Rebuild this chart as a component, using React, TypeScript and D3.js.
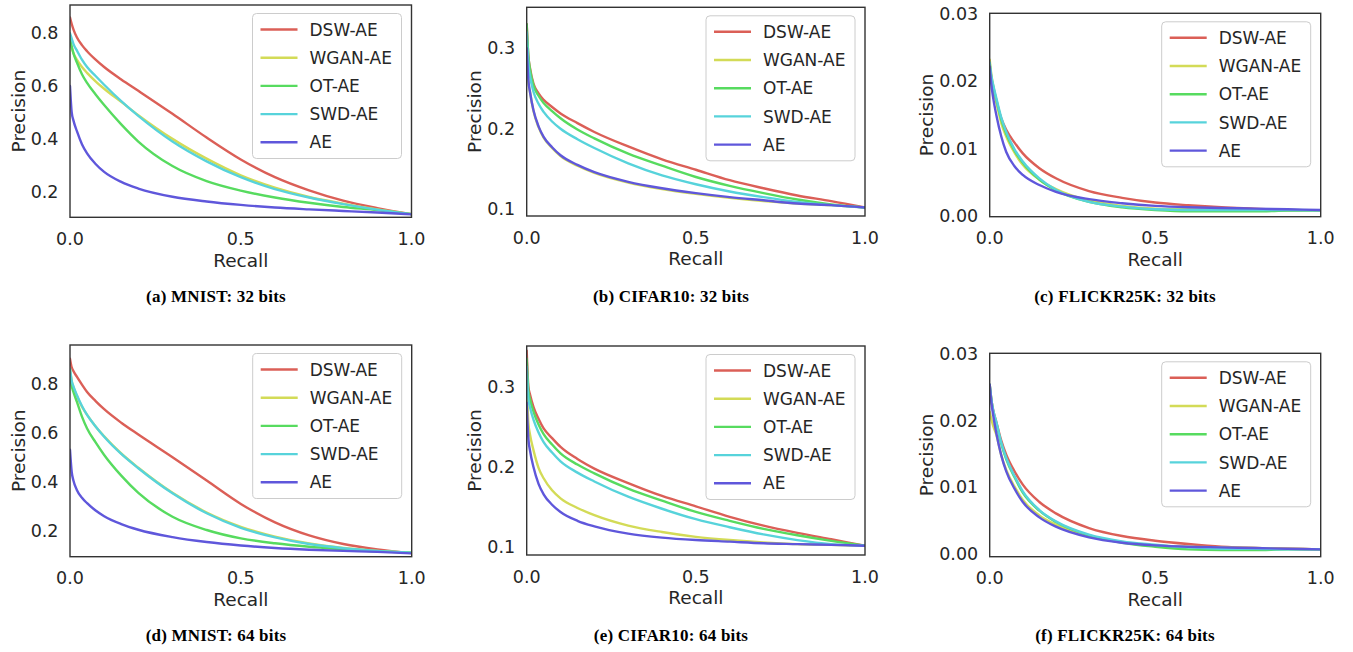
import React from "react";
import * as d3 from "d3";

// ---------- data ----------
const recall = [0, 0.005, 0.01, 0.02, 0.035, 0.05, 0.075, 0.1, 0.15, 0.2, 0.3, 0.4, 0.5, 0.6, 0.7, 0.8, 0.9, 1.0];
const methods = ["DSW-AE", "WGAN-AE", "OT-AE", "SWD-AE", "AE"];
const xTicks = [0, 0.5, 1.0];
const yTicksMnist = [0.2, 0.4, 0.6, 0.8];
const yTicksCifar = [0.1, 0.2, 0.3];
const yTicksFlickr = [0.0, 0.01, 0.02, 0.03];

// rows follow the order of `methods`
const mnist32 = [
  [0.86, 0.835, 0.815, 0.785, 0.755, 0.732, 0.70, 0.672, 0.625, 0.582, 0.495, 0.405, 0.322, 0.255, 0.205, 0.166, 0.138, 0.115],
  [0.77, 0.745, 0.725, 0.70, 0.672, 0.65, 0.618, 0.59, 0.54, 0.49, 0.40, 0.325, 0.262, 0.215, 0.18, 0.155, 0.133, 0.115],
  [0.78, 0.75, 0.725, 0.69, 0.645, 0.612, 0.568, 0.528, 0.455, 0.39, 0.297, 0.24, 0.204, 0.178, 0.158, 0.142, 0.13, 0.115],
  [0.80, 0.78, 0.76, 0.735, 0.70, 0.672, 0.638, 0.605, 0.543, 0.487, 0.39, 0.315, 0.255, 0.21, 0.178, 0.153, 0.132, 0.115],
  [0.60, 0.50, 0.47, 0.43, 0.38, 0.345, 0.305, 0.275, 0.237, 0.212, 0.181, 0.163, 0.15, 0.14, 0.133, 0.127, 0.121, 0.114],
];
const cifar32 = [
  [0.33, 0.29, 0.275, 0.256, 0.244, 0.236, 0.227, 0.219, 0.207, 0.196, 0.178, 0.162, 0.149, 0.136, 0.126, 0.117, 0.11, 0.102],
  [0.31, 0.26, 0.245, 0.222, 0.202, 0.189, 0.176, 0.166, 0.154, 0.145, 0.133, 0.125, 0.119, 0.114, 0.11, 0.107, 0.105, 0.102],
  [0.33, 0.29, 0.273, 0.254, 0.241, 0.232, 0.222, 0.213, 0.199, 0.188, 0.169, 0.154, 0.14, 0.129, 0.12, 0.112, 0.106, 0.102],
  [0.32, 0.28, 0.265, 0.246, 0.231, 0.221, 0.209, 0.2, 0.187, 0.176, 0.157, 0.142, 0.131, 0.122, 0.115, 0.109, 0.105, 0.102],
  [0.30, 0.26, 0.245, 0.223, 0.203, 0.19, 0.177, 0.167, 0.155, 0.146, 0.134, 0.126, 0.12, 0.115, 0.111, 0.107, 0.105, 0.102],
];
const flickr32 = [
  [0.0225, 0.0205, 0.019, 0.017, 0.0145, 0.0128, 0.0109, 0.0093, 0.0071, 0.0056, 0.0037, 0.0027, 0.002, 0.0016, 0.0013, 0.0011, 0.0009, 0.00085],
  [0.0232, 0.021, 0.0195, 0.017, 0.0138, 0.0118, 0.0094, 0.0076, 0.0054, 0.004, 0.0023, 0.0015, 0.0011, 0.001, 0.0009, 0.0009, 0.00085, 0.00085],
  [0.0225, 0.0205, 0.0193, 0.0173, 0.0143, 0.0122, 0.0097, 0.0079, 0.0054, 0.0038, 0.0021, 0.0013, 0.0009, 0.0007, 0.0007, 0.0007, 0.0008, 0.00085],
  [0.0228, 0.0208, 0.0196, 0.0175, 0.0146, 0.0125, 0.0099, 0.0081, 0.0056, 0.0039, 0.0021, 0.0014, 0.001, 0.0009, 0.0009, 0.0009, 0.0009, 0.00085],
  [0.0222, 0.0195, 0.0177, 0.015, 0.0118, 0.0095, 0.0074, 0.0061, 0.0046, 0.0036, 0.0025, 0.0019, 0.0015, 0.0013, 0.0012, 0.0011, 0.001, 0.0009],
];
const mnist64 = [
  [0.90, 0.865, 0.85, 0.827, 0.795, 0.765, 0.728, 0.695, 0.64, 0.592, 0.50, 0.405, 0.31, 0.235, 0.182, 0.147, 0.125, 0.11],
  [0.86, 0.81, 0.785, 0.75, 0.705, 0.672, 0.625, 0.585, 0.515, 0.457, 0.355, 0.275, 0.217, 0.177, 0.149, 0.131, 0.119, 0.112],
  [0.84, 0.79, 0.765, 0.726, 0.665, 0.617, 0.56, 0.509, 0.425, 0.355, 0.258, 0.204, 0.17, 0.15, 0.136, 0.126, 0.117, 0.112],
  [0.86, 0.81, 0.788, 0.753, 0.708, 0.672, 0.625, 0.583, 0.513, 0.455, 0.353, 0.272, 0.213, 0.174, 0.147, 0.13, 0.119, 0.112],
  [0.53, 0.44, 0.405, 0.367, 0.335, 0.313, 0.283, 0.26, 0.228, 0.205, 0.175, 0.155, 0.141, 0.131, 0.124, 0.119, 0.115, 0.109],
];
const cifar64 = [
  [0.345, 0.30, 0.29, 0.275, 0.26, 0.248, 0.236, 0.225, 0.21, 0.198, 0.18, 0.164, 0.151, 0.138, 0.127, 0.118, 0.11, 0.102],
  [0.30, 0.255, 0.24, 0.221, 0.199, 0.186, 0.171, 0.161, 0.149, 0.14, 0.127, 0.119, 0.113, 0.109, 0.106, 0.104, 0.103, 0.102],
  [0.335, 0.295, 0.284, 0.269, 0.253, 0.241, 0.228, 0.217, 0.203, 0.192, 0.173, 0.158, 0.144, 0.133, 0.123, 0.115, 0.108, 0.102],
  [0.325, 0.285, 0.274, 0.259, 0.243, 0.231, 0.218, 0.207, 0.193, 0.182, 0.163, 0.148, 0.135, 0.125, 0.116, 0.109, 0.104, 0.102],
  [0.28, 0.235, 0.22, 0.20, 0.179, 0.166, 0.153, 0.144, 0.133, 0.126, 0.117, 0.112, 0.109, 0.107, 0.105, 0.104, 0.103, 0.102],
];
const flickr64 = [
  [0.0254, 0.0232, 0.0217, 0.0198, 0.017, 0.0149, 0.0124, 0.0104, 0.0078, 0.0061, 0.0039, 0.0027, 0.002, 0.0015, 0.0011, 0.0009, 0.0008, 0.0007],
  [0.0213, 0.0202, 0.0193, 0.0179, 0.0148, 0.0126, 0.0101, 0.0081, 0.0058, 0.0044, 0.0027, 0.0018, 0.0013, 0.0011, 0.001, 0.0009, 0.0008, 0.0007],
  [0.0254, 0.0232, 0.0215, 0.0196, 0.0165, 0.0142, 0.0115, 0.0092, 0.0065, 0.0048, 0.0028, 0.0017, 0.0011, 0.0007, 0.0006, 0.0006, 0.0007, 0.0007],
  [0.0254, 0.0232, 0.0217, 0.0198, 0.0167, 0.0144, 0.0117, 0.0094, 0.0066, 0.0049, 0.0029, 0.0019, 0.0014, 0.001, 0.0008, 0.0008, 0.0007, 0.0007],
  [0.0254, 0.0228, 0.021, 0.0181, 0.0148, 0.0124, 0.0098, 0.0078, 0.0055, 0.0041, 0.0025, 0.0017, 0.0013, 0.0011, 0.001, 0.0009, 0.0008, 0.0007],
];

// ---------- style / layout ----------
const palette = ["#db5f57", "#d3db57", "#57db5f", "#57d3db", "#5f57db"];
const TEXT = "#262626";
const SANS = "'DejaVu Sans', Verdana, sans-serif";
const SERIF = "'Liberation Serif', 'Times New Roman', serif";

const panels = [
  { id: "a", data: mnist32, yDomain: [0.103, 0.907], yTicks: yTicksMnist, fmt: ".1f",
    box: [70, 411.5, 5, 217.3], caption: "(a) MNIST: 32 bits", capX: 216, capY: 302 },
  { id: "b", data: cifar32, yDomain: [0.0915, 0.351], yTicks: yTicksCifar, fmt: ".1f",
    box: [526.7, 865, 7.3, 216], caption: "(b) CIFAR10: 32 bits", capX: 671, capY: 302 },
  { id: "c", data: flickr32, yDomain: [-0.0001, 0.0301], yTicks: yTicksFlickr, fmt: ".2f",
    box: [989.7, 1320.7, 13.3, 216.7], caption: "(c) FLICKR25K: 32 bits", capX: 1125, capY: 302 },
  { id: "d", data: mnist64, yDomain: [0.0955, 0.956], yTicks: yTicksMnist, fmt: ".1f",
    box: [70, 411.7, 345, 556.7], caption: "(d) MNIST: 64 bits", capX: 216, capY: 641 },
  { id: "e", data: cifar64, yDomain: [0.0904, 0.3507], yTicks: yTicksCifar, fmt: ".1f",
    box: [526.7, 865, 346, 555], caption: "(e) CIFAR10: 64 bits", capX: 671, capY: 641 },
  { id: "f", data: flickr64, yDomain: [-0.0004, 0.0301], yTicks: yTicksFlickr, fmt: ".2f",
    box: [989.7, 1320.7, 353.3, 556.7], caption: "(f) FLICKR25K: 64 bits", capX: 1125, capY: 641 },
];

function Panel({ p }: { p: any }) {
  const [x0, x1, y0, y1] = p.box;
  const x = d3.scaleLinear().domain([0, 1]).range([x0, x1]);
  const y = d3.scaleLinear().domain(p.yDomain).range([y1, y0]);
  const fmt = d3.format(p.fmt);
  const line = d3
    .line<number>()
    .x((_, i) => x(recall[i]))
    .y((v) => y(v))
    .curve(d3.curveMonotoneX);
  const clipId = `clip-${p.id}`;
  const tickW = p.fmt === ".2f" ? 38 : 27;
  const yLabelX = x0 - 12 - tickW - 6.5;
  const legW = 149;
  const legH = 145;
  const legX = x1 - 10 - legW;
  const legY = y0 + 8.5;
  return (
    <g>
      <defs>
        <clipPath id={clipId}>
          <rect x={x0} y={y0} width={x1 - x0} height={y1 - y0} />
        </clipPath>
      </defs>
      <g clipPath={`url(#${clipId})`}>
        {p.data.map((vals: number[], i: number) => (
          <path
            key={i}
            d={line(vals) || ""}
            fill="none"
            stroke={palette[i]}
            strokeWidth={2.4}
            strokeLinejoin="round"
            strokeLinecap="round"
          />
        ))}
      </g>
      <rect x={x0} y={y0} width={x1 - x0} height={y1 - y0} fill="none" stroke="#333" strokeWidth={1.4} />
      {p.yTicks.map((t: number) => (
        <text key={t} x={x0 - 11.5} y={y(t)} dy="0.35em" textAnchor="end" fontFamily={SANS} fontSize={17.5} fill={TEXT}>
          {fmt(t)}
        </text>
      ))}
      {xTicks.map((t) => (
        <text key={t} x={x(t)} y={y1 + 27.5} textAnchor="middle" fontFamily={SANS} fontSize={17.5} fill={TEXT}>
          {d3.format(".1f")(t)}
        </text>
      ))}
      <text x={(x0 + x1) / 2} y={y1 + 49.3} textAnchor="middle" fontFamily={SANS} fontSize={18.5} fill={TEXT}>
        Recall
      </text>
      <text
        transform={`translate(${yLabelX},${(y0 + y1) / 2}) rotate(-90)`}
        textAnchor="middle"
        fontFamily={SANS}
        fontSize={18.5}
        fill={TEXT}
      >
        Precision
      </text>
      <rect x={legX} y={legY} width={legW} height={legH} rx={4} fill="#fff" fillOpacity={0.8} stroke="#cccccc" strokeWidth={1} />
      {methods.map((m, i) => {
        const cy = legY + 16 + i * 28.2;
        return (
          <g key={m}>
            <line x1={legX + 8} x2={legX + 45} y1={cy} y2={cy} stroke={palette[i]} strokeWidth={2.4} />
            <text x={legX + 57} y={cy} dy="0.36em" fontFamily={SANS} fontSize={17} fill={TEXT}>
              {m}
            </text>
          </g>
        );
      })}
      <text x={p.capX} y={p.capY} textAnchor="middle" fontFamily={SERIF} fontWeight="bold" fontSize={17} letterSpacing={0.2} fill="#000">
        {p.caption}
      </text>
    </g>
  );
}

export default function App() {
  return (
    <svg
      width={1353}
      height={652}
      viewBox="0 0 1353 652"
      style={{ position: "absolute", left: 0, top: 0, background: "#fff" }}
    >
      <rect width={1353} height={652} fill="#fff" />
      {panels.map((p) => (
        <Panel key={p.id} p={p} />
      ))}
    </svg>
  );
}
